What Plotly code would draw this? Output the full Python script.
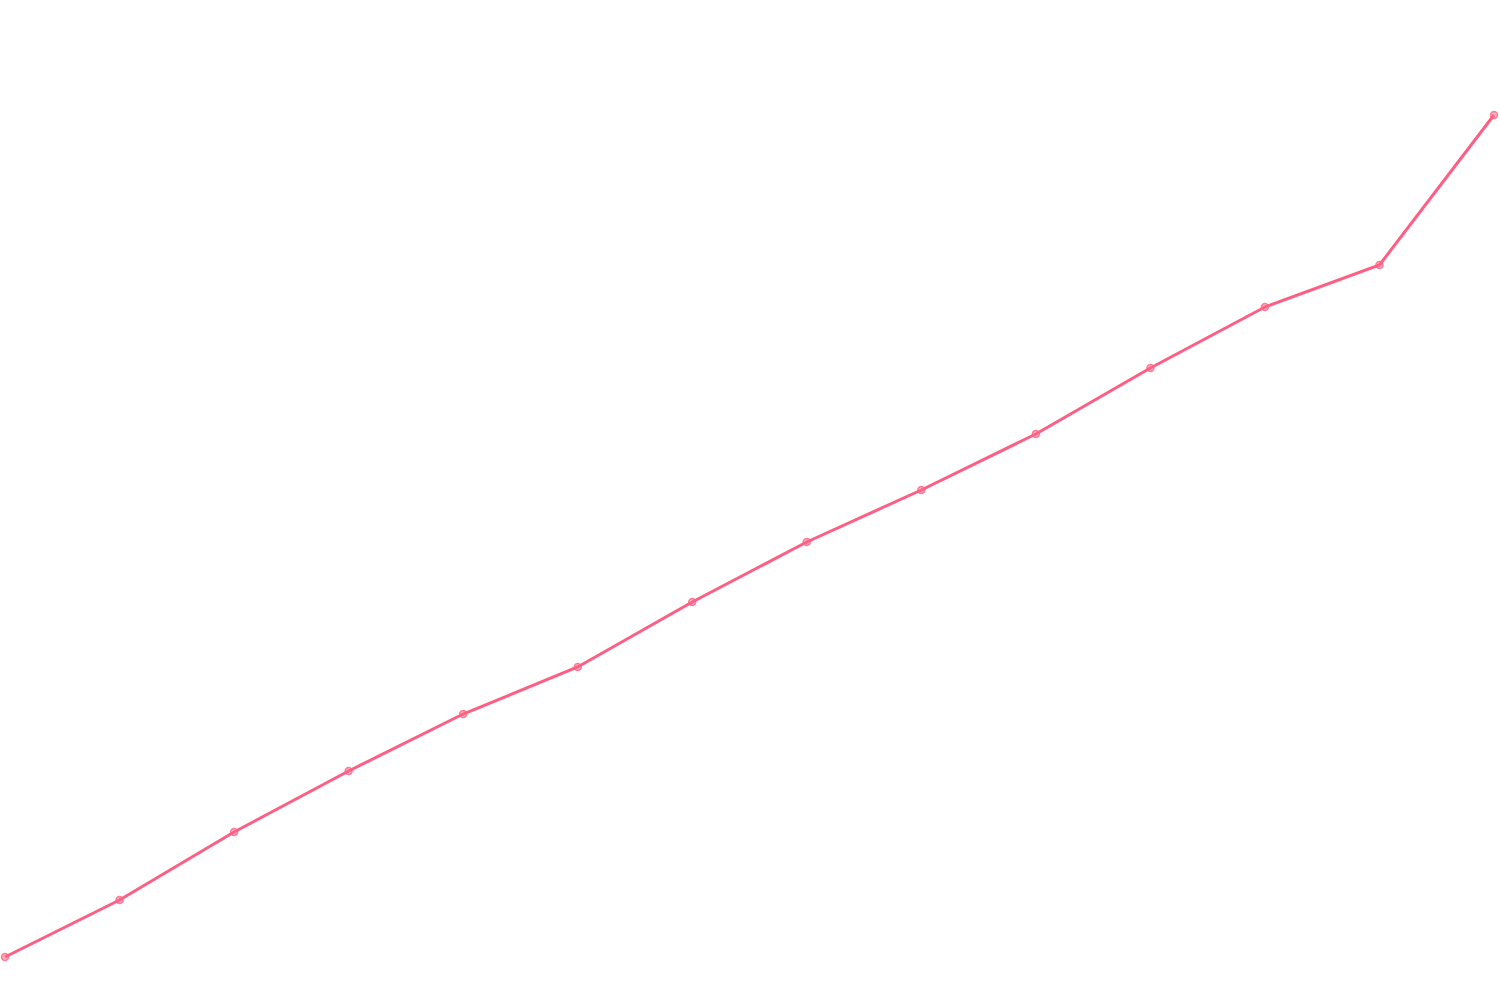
import plotly.graph_objects as go

labels = list(range(14))
values = [43, 100, 168, 229, 286, 333, 398, 458, 510, 566, 632, 693, 735, 885]

fig = go.Figure(go.Scatter(
    x=labels, y=values, mode="lines+markers",
    line=dict(color="rgb(255,94,131)", width=3),
    marker=dict(size=7, color="rgba(255,99,132,0.5)",
                line=dict(color="rgba(255,99,132,0.8)", width=1.5)),
    hoverinfo="skip",
))
fig.update_layout(
    width=1500, height=1000,
    margin=dict(l=0, r=0, t=0, b=0),
    paper_bgcolor="white", plot_bgcolor="white",
    showlegend=False,
    xaxis=dict(visible=False, range=[-5/114.54, 13 + 6/114.54]),
    yaxis=dict(visible=False, range=[0, 1000]),
)
fig.write_html("out.html", config={"displayModeBar": False},
               post_script="document.body.style.margin='0';document.body.style.overflow='hidden';")
